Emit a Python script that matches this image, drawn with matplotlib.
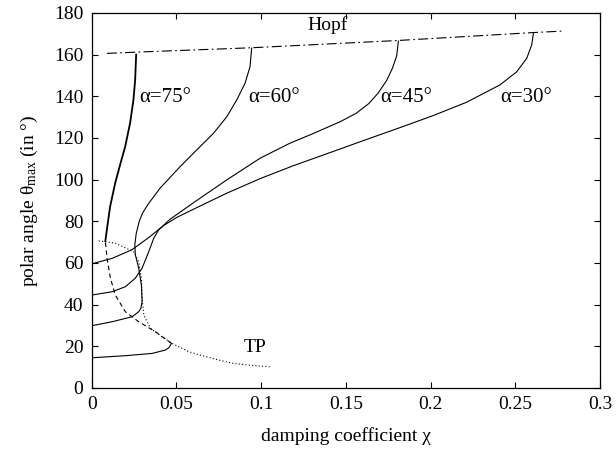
import matplotlib
matplotlib.use("Agg")
import matplotlib.pyplot as plt

plt.rcParams['font.family'] = ['Liberation Serif', 'DejaVu Serif']
plt.rcParams['mathtext.fontset'] = 'custom'
plt.rcParams['mathtext.rm'] = 'Liberation Serif'
plt.rcParams['mathtext.it'] = 'Liberation Serif:italic'

# alpha = 30 deg branch
a30_x = [0, 0.012, 0.0238, 0.0336, 0.0425, 0.0500, 0.06, 0.0797, 0.0994, 0.119,
         0.1407, 0.1564, 0.182, 0.2017, 0.2214, 0.241, 0.2509, 0.2568,
         0.2597, 0.2607]
a30_y = [59.6, 62.2, 66.4, 72.2, 78.0, 81.8, 85.8, 93.5, 100.5, 106.7,
         113.0, 117.6, 125.0, 130.8, 137.2, 145.5, 151.8, 158.3,
         164.7, 170.3]

# alpha = 45 deg branch
a45_x = [0, 0.012, 0.0198, 0.0257, 0.0297, 0.0336, 0.0366, 0.0395, 0.0462, 0.06,
         0.0797, 0.0994, 0.117, 0.1289, 0.1466, 0.156, 0.1635, 0.169, 0.174,
         0.1775, 0.180, 0.181]
a45_y = [44.6, 46.2, 48.6, 52.7, 57.5, 65.4, 71.9, 75.9, 81, 88.9,
         99.9, 110.3, 117.5, 121.5, 127.8, 131.8, 136.5, 141.5, 147.5,
         153.5, 159.5, 166.5]

# alpha = 60 deg branch
a60_x = [0, 0.012, 0.0238, 0.0277, 0.0290, 0.0297, 0.0293, 0.0277, 0.0257, 0.0254,
         0.0262, 0.0280, 0.0300, 0.0335, 0.0403, 0.0521, 0.062, 0.0718, 0.0797,
         0.0856, 0.0905, 0.0934, 0.0944]
a60_y = [29.9, 31.8, 34.2, 36.6, 38.3, 41.5, 49.4, 57.5, 64, 68.7,
         74, 80, 84, 88.5, 95.9, 106.2, 114.3, 122.2, 130.2,
         138.3, 146.3, 154.2, 163.1]

# alpha = 75 deg: lower stable, unstable (dashed), upper stable
a75_lo_x = [0, 0.0198, 0.0356, 0.0434, 0.0455, 0.047]
a75_lo_y = [14.5, 15.5, 16.6, 18.2, 19.3, 21.4]
a75_un_x = [0.047, 0.0376, 0.0277, 0.0198, 0.0139, 0.011, 0.009, 0.008]
a75_un_y = [21.4, 27, 31.8, 36.6, 44.6, 52.7, 62.3, 70.5]
a75_up_x = [0.008, 0.0089, 0.0108, 0.0138, 0.0165, 0.0197, 0.0226, 0.0246, 0.0256, 0.0262]
a75_up_y = [70.5, 75.9, 87, 98.3, 106.5, 115.8, 127.1, 138.3, 147.9, 160]

# turning point curve (dotted)
tp_x = [0.0041, 0.0139, 0.0248, 0.0277, 0.0293, 0.0297, 0.0307, 0.0346, 0.0415,
        0.0474, 0.0573, 0.0639, 0.075, 0.0836, 0.095, 0.105]
tp_y = [70.6, 69.5, 65.4, 60.6, 52.7, 43.1, 35, 28.7, 24.6,
        21.4, 17.4, 15.8, 13.4, 11.8, 10.8, 10.2]

# Hopf curve (dash-dot)
hopf_x = [0.0089, 0.0262, 0.0944, 0.181, 0.2607, 0.278]
hopf_y = [160.6, 161.2, 163.3, 166.8, 170.6, 171.3]

xticks = [0, 0.05, 0.1, 0.15, 0.2, 0.25, 0.3]
xtick_labels = ['0', '0.05', '0.1', '0.15', '0.2', '0.25', '0.3']
yticks = [0, 20, 40, 60, 80, 100, 120, 140, 160, 180]

fig = plt.figure(figsize=(6.16, 4.63), dpi=100)
ax = fig.add_axes([0.149, 0.162, 0.825, 0.810])

lw = 0.8
ax.plot(a30_x, a30_y, color='black', lw=lw)
ax.plot(a45_x, a45_y, color='black', lw=lw)
ax.plot(a60_x, a60_y, color='black', lw=lw)
ax.plot(a75_lo_x, a75_lo_y, color='black', lw=lw)
ax.plot(a75_un_x, a75_un_y, color='black', lw=lw, linestyle=(0, (4, 3)))
ax.plot(a75_up_x, a75_up_y, color='black', lw=1.3)
ax.plot(tp_x, tp_y, color='black', lw=lw, linestyle=(0, (1, 2)))
ax.plot(hopf_x, hopf_y, color='black', lw=lw, linestyle=(0, (9, 3, 1.5, 3)))

fs = 14
lfs = 15
ax.text(0.139, 174, 'Hopf', fontsize=fs, ha='center', va='center')
ax.text(0.028, 139.5, 'α=75°', fontsize=lfs, ha='left', va='center')
ax.text(0.0925, 139.5, 'α=60°', fontsize=lfs, ha='left', va='center')
ax.text(0.170, 139.5, 'α=45°', fontsize=lfs, ha='left', va='center')
ax.text(0.241, 139.5, 'α=30°', fontsize=lfs, ha='left', va='center')
ax.text(0.0895, 19.4, 'TP', fontsize=fs, ha='left', va='center')

ax.set_xlim(0, 0.3)
ax.set_ylim(0, 180)
ax.set_xticks(xticks)
ax.set_xticklabels(xtick_labels)
ax.set_yticks(yticks)
ax.tick_params(direction='in', top=True, right=True, length=4, width=0.8,
               labelsize=fs, pad=6)
for s in ax.spines.values():
    s.set_linewidth(0.9)

ax.set_xlabel('damping coefficient χ', fontsize=fs, labelpad=10)
ax.set_ylabel(r'polar angle θ$_{\mathrm{max}}$ (in °)', fontsize=fs, labelpad=10)

fig.savefig('out.png', dpi=100)
